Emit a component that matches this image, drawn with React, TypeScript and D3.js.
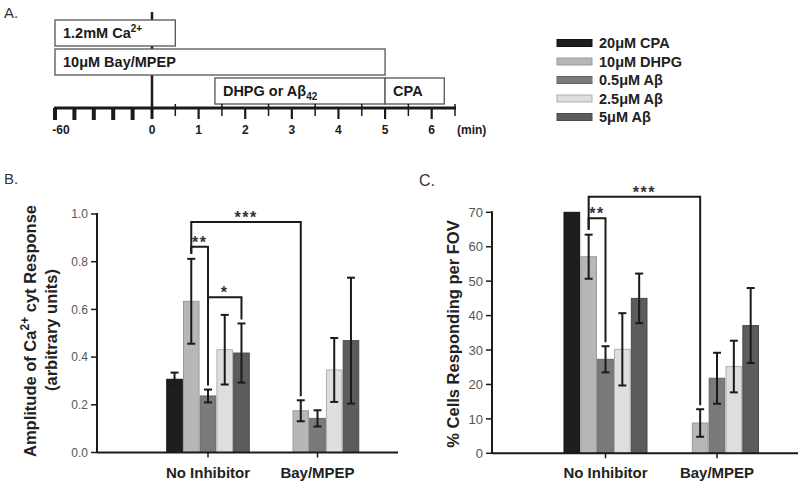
import React from "react";
import * as d3 from "d3";

// ---------- data ----------
const groups = ["No Inhibitor", "Bay/MPEP"];
const series = ["20μM CPA", "10μM DHPG", "0.5μM Aβ", "2.5μM Aβ", "5μM Aβ"];
const seriesColors = ["#1e1e1e", "#b7b7b7", "#7a7a7a", "#dedede", "#5c5c5c"];
const seriesStroke = ["#111111", "#9a9a9a", "#666666", "#b0b0b0", "#4a4a4a"];

// Panel B: amplitude of Ca2+cyt response
const ampMean = [
  [0.307, 0.634, 0.237, 0.431, 0.417],
  [null, 0.175, 0.143, 0.346, 0.469],
];
const ampErr = [
  [0.028, 0.178, 0.027, 0.146, 0.124],
  [null, 0.044, 0.034, 0.134, 0.264],
];
const ampTicks = [0, 0.2, 0.4, 0.6, 0.8, 1.0];
const ampBrackets = [
  { a: [0, 1], b: [1, 1], level: 0.966, label: "***" },
  { a: [0, 1], b: [0, 2], level: 0.863, label: "**" },
  { a: [0, 2], b: [0, 4], level: 0.651, label: "*" },
];

// Panel C: % cells responding per FOV
const pctMean = [
  [70, 57.1, 27.3, 30.2, 45.0],
  [null, 8.8, 21.8, 25.2, 37.1],
];
const pctErr = [
  [0, 6.4, 3.8, 10.5, 7.2],
  [null, 4.0, 7.4, 7.5, 10.9],
];
const pctTicks = [0, 10, 20, 30, 40, 50, 60, 70];
const pctBrackets = [
  { a: [0, 1], b: [1, 1], level: 74.5, label: "***" },
  { a: [0, 1], b: [0, 2], level: 68.3, label: "**" },
];

// Panel A: protocol timeline (minutes)
const preTicks = [-60, -48, -36, -24, -12];
const minorTicks = [0.5, 1.5, 2.5, 3.5, 4.5, 5.5, 6.5];
const majorTicks = [0, 1, 2, 3, 4, 5, 6];
const tickLabels = ["-60", "0", "1", "2", "3", "4", "5", "6"];
const tickLabelValues = [-60, 0, 1, 2, 3, 4, 5, 6];
const protocolRows = [0, 1, 2, 2];
const protocolStart = [-60, -60, 1.35, 5];
const protocolEnd = [0.5, 5, 5, 6.27];

const FONT = "'Liberation Sans', Arial, Helvetica, sans-serif";
const INK = "#1a1a1a";

// ---------- Timeline ----------
function Timeline() {
  const t = d3.scaleLinear().domain([-60, 0, 6.5]).range([55, 152, 455]);
  const axisY = 108;
  const rowTop = (r: number) => 20 + r * 29;
  const boxH = 26;
  const labels = [
    <>1.2mM Ca<tspan fontSize={10} dy={-6}>2+</tspan></>,
    <>10μM Bay/MPEP</>,
    <>DHPG or Aβ<tspan fontSize={10} dy={4}>42</tspan></>,
    <>CPA</>,
  ];
  return (
    <g fontFamily={FONT}>
      <text x={4} y={18} fontSize={15} fill="#333">A.</text>
      <line x1={t(0)} x2={t(0)} y1={12} y2={axisY} stroke={INK} strokeWidth={2.5} />
      {protocolRows.map((r, i) => (
        <g key={i}>
          <rect
            x={t(protocolStart[i])}
            y={rowTop(r)}
            width={t(protocolEnd[i]) - t(protocolStart[i])}
            height={boxH}
            fill="#fff"
            stroke="#555"
            strokeWidth={1.3}
          />
          <text
            x={t(protocolStart[i]) + 8}
            y={rowTop(r) + 18}
            fontSize={14.5}
            fontWeight="bold"
            fill={INK}
          >
            {labels[i]}
          </text>
        </g>
      ))}
      <line x1={t(-60) - 1} x2={t(6.5) + 1} y1={axisY} y2={axisY} stroke={INK} strokeWidth={3} />
      {preTicks.map((v) => (
        <line key={v} x1={t(v)} x2={t(v)} y1={axisY} y2={axisY + 12} stroke={INK} strokeWidth={4} />
      ))}
      {majorTicks.map((v) => (
        <line key={v} x1={t(v)} x2={t(v)} y1={axisY} y2={axisY + 11} stroke={INK} strokeWidth={v === 0 ? 3 : 2.2} />
      ))}
      {minorTicks.map((v) => (
        <line key={v} x1={t(v)} x2={t(v)} y1={axisY - 4} y2={axisY + 8} stroke={INK} strokeWidth={1.5} />
      ))}
      {tickLabelValues.map((v, i) => (
        <text
          key={v}
          x={t(v) + (v < 0 ? 6 : 0)}
          y={axisY + 26}
          fontSize={12}
          fontWeight="bold"
          textAnchor="middle"
          fill={INK}
        >
          {tickLabels[i]}
        </text>
      ))}
      <text x={t(6.5) + 2} y={axisY + 26} fontSize={12} fontWeight="bold" fill={INK}>
        (min)
      </text>
    </g>
  );
}

// ---------- Legend ----------
function Legend() {
  const y = d3.scalePoint().domain(series).range([43, 117]);
  return (
    <g fontFamily={FONT}>
      {series.map((s, i) => (
        <g key={s}>
          <rect
            x={557}
            y={(y(s) as number) - 3.5}
            width={35}
            height={7}
            fill={seriesColors[i]}
            stroke={seriesStroke[i]}
            strokeWidth={1}
          />
          <text x={599} y={(y(s) as number) + 5} fontSize={14.5} fontWeight="bold" fill="#222">
            {s}
          </text>
        </g>
      ))}
    </g>
  );
}

// ---------- Bar panel ----------
type Bracket = { a: number[]; b: number[]; level: number; label: string };

function BarPanel(props: {
  means: (number | null)[][];
  errs: (number | null)[][];
  domain: [number, number];
  yRange: [number, number];
  axisX: [number, number];
  centers: [number, number];
  groupWidth: number;
  ticks: number[];
  fmt: (v: number) => string;
  tickFontSize: number;
  brackets: Bracket[];
}) {
  const { means, errs, domain, yRange, axisX, centers, groupWidth, ticks, fmt, tickFontSize, brackets } = props;
  const y = d3.scaleLinear().domain(domain).range(yRange);
  const gx = d3.scalePoint().domain(groups).range(centers);
  const bx = d3.scaleBand().domain(series).range([-groupWidth / 2, groupWidth / 2]).paddingInner(0.07);
  const barCenter = (gi: number, si: number) =>
    (gx(groups[gi]) as number) + (bx(series[si]) as number) + bx.bandwidth() / 2;
  const y0 = y(0);
  const cap = 4;
  return (
    <g fontFamily={FONT}>
      {groups.map((g, gi) =>
        series.map((s, si) => {
          const m = means[gi][si];
          if (m == null) return null;
          const x = (gx(g) as number) + (bx(s) as number);
          return (
            <rect
              key={g + s}
              x={x}
              y={y(m)}
              width={bx.bandwidth()}
              height={y0 - y(m)}
              fill={seriesColors[si]}
              stroke={seriesStroke[si]}
              strokeWidth={1}
            />
          );
        })
      )}
      {groups.map((g, gi) =>
        series.map((s, si) => {
          const m = means[gi][si];
          const e = errs[gi][si];
          if (m == null || e == null || e === 0) return null;
          const cx = barCenter(gi, si);
          return (
            <g key={"e" + g + s} stroke={INK} strokeWidth={2}>
              <line x1={cx} x2={cx} y1={y(m - e)} y2={y(m + e)} />
              <line x1={cx - cap} x2={cx + cap} y1={y(m + e)} y2={y(m + e)} />
              <line x1={cx - cap} x2={cx + cap} y1={y(m - e)} y2={y(m - e)} />
            </g>
          );
        })
      )}
      {brackets.map((br, i) => {
        const xa = barCenter(br.a[0], br.a[1]);
        const xb = barCenter(br.b[0], br.b[1]);
        const ya = y((means[br.a[0]][br.a[1]] as number) + (errs[br.a[0]][br.a[1]] as number)) - 5;
        const yb = y((means[br.b[0]][br.b[1]] as number) + (errs[br.b[0]][br.b[1]] as number)) - 4;
        const yl = y(br.level);
        return (
          <g key={"b" + i}>
            <path
              d={`M${xa},${ya}V${yl}H${xb}V${yb}`}
              fill="none"
              stroke={INK}
              strokeWidth={2}
            />
            <text
              x={(xa + xb) / 2}
              y={yl + 1}
              fontSize={16}
              fontWeight="bold"
              textAnchor="middle"
              letterSpacing={1.5}
              fill="#333"
            >
              {br.label}
            </text>
          </g>
        );
      })}
      {/* axes */}
      <line x1={axisX[0]} x2={axisX[0]} y1={y(domain[1]) - 1} y2={y0} stroke={INK} strokeWidth={2} />
      <line x1={axisX[0]} x2={axisX[1]} y1={y0} y2={y0} stroke={INK} strokeWidth={2} />
      {ticks.map((v) => (
        <g key={v}>
          <line x1={axisX[0] - 6} x2={axisX[0]} y1={y(v)} y2={y(v)} stroke={INK} strokeWidth={1.5} />
          <text
            x={axisX[0] - 9}
            y={y(v) + tickFontSize * 0.36}
            fontSize={tickFontSize}
            textAnchor="end"
            fill="#555"
          >
            {fmt(v)}
          </text>
        </g>
      ))}
      {groups.map((g) => (
        <g key={"x" + g}>
          <line x1={gx(g) as number} x2={gx(g) as number} y1={y0} y2={y0 + 5} stroke={INK} strokeWidth={1.5} />
          <text x={gx(g) as number} y={y0 + 25} fontSize={15} fontWeight="bold" textAnchor="middle" fill="#222">
            {g}
          </text>
        </g>
      ))}
    </g>
  );
}

export default function App() {
  return (
    <svg
      width={800}
      height={486}
      viewBox="0 0 800 486"
      style={{ position: "absolute", left: 0, top: 0, background: "#fff" }}
    >
      <rect x={0} y={0} width={800} height={486} fill="#fff" />
      <Timeline />
      <Legend />

      {/* Panel B */}
      <text x={4} y={184} fontSize={15} fontFamily={FONT} fill="#333">B.</text>
      <g fontFamily={FONT} fontWeight="bold" fill="#222">
        <text transform="translate(36,331) rotate(-90)" fontSize={16.5} textAnchor="middle">
          Amplitude of Ca<tspan fontSize={12} dy={-7}>2+</tspan>
          <tspan dy={7}> cyt Response</tspan>
        </text>
        <text transform="translate(57,330) rotate(-90)" fontSize={16.5} textAnchor="middle">
          (arbitrary units)
        </text>
      </g>
      <BarPanel
        means={ampMean}
        errs={ampErr}
        domain={[0, 1]}
        yRange={[452.5, 214]}
        axisX={[97, 398]}
        centers={[208, 317.5]}
        groupWidth={82.5}
        ticks={ampTicks}
        fmt={d3.format(".1f")}
        tickFontSize={12}
        brackets={ampBrackets}
      />

      {/* Panel C */}
      <text x={419} y={186} fontSize={16} fontFamily={FONT} fill="#333">C.</text>
      <text
        transform="translate(459,334) rotate(-90)"
        fontSize={16.5}
        fontWeight="bold"
        fontFamily={FONT}
        textAnchor="middle"
        fill="#222"
      >
        % Cells Responding per FOV
      </text>
      <BarPanel
        means={pctMean}
        errs={pctErr}
        domain={[0, 70]}
        yRange={[453.3, 212.3]}
        axisX={[492, 798]}
        centers={[605.5, 717]}
        groupWidth={83}
        ticks={pctTicks}
        fmt={d3.format("d")}
        tickFontSize={13}
        brackets={pctBrackets}
      />
    </svg>
  );
}
